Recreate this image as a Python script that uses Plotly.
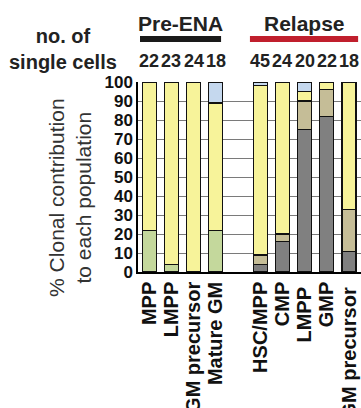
import plotly.graph_objects as go

categories = ["MPP", "LMPP", "GM precursor", "Mature GM",
              "HSC/MPP", "CMP", "LMPP ", "GMP", "GM precursor "]
positions = [0, 1, 2, 3, 5, 6, 7, 8, 9]
cell_counts = ["22", "23", "24", "18", "45", "24", "20", "22", "18"]

gray_vals = [None, None, None, None, 4, 16, 75, 82, 11]
green_vals = [22, 4, None, 22, None, None, None, None, None]
tan_vals = [None, None, None, None, 5, 4, 15, 14, 22]
yellow_vals = [78, 96, 100, 67, 89, 80, 5, 4, 67]
blue_vals = [None, None, None, 11, 2, None, 5, None, None]

series = [
    (gray_vals, "#808080"),
    (green_vals, "#c4d89c"),
    (tan_vals, "#c5bd97"),
    (yellow_vals, "#f7f39a"),
    (blue_vals, "#c5d8ee"),
]

FONT = "Liberation Sans, Arial, sans-serif"

fig = go.Figure()
for vals, col in series:
    fig.add_trace(go.Bar(
        x=positions, y=vals, width=0.63,
        marker=dict(color=col, line=dict(color="#111111", width=1.2)),
        showlegend=False, hoverinfo="skip"))

fig.update_layout(
    barmode="stack",
    width=361, height=408,
    margin=dict(l=138, r=0, t=82, b=136),
    paper_bgcolor="white", plot_bgcolor="white",
    font=dict(family=FONT, color="#222222"),
    xaxis=dict(range=[-0.5, 9.54], tickvals=positions, ticktext=categories,
               tickangle=-90, showgrid=False, showline=True, linecolor="black",
               linewidth=1.5, ticks="", zeroline=False, automargin=False,
               tickfont=dict(size=20, family=FONT, color="#111111", weight="bold")),
    yaxis=dict(range=[0, 100], tickvals=list(range(0, 101, 10)),
               showgrid=True, gridcolor="#7a7a7a", gridwidth=1,
               showline=True, linecolor="black", linewidth=1.5,
               ticks="", zeroline=False, automargin=False,
               tickfont=dict(size=17, family=FONT, color="#111111", weight="bold")),
)

# cell count numbers
for p, c in zip(positions, cell_counts):
    fig.add_annotation(x=p, xref="x", y=1.11, yref="paper", text=c,
                       showarrow=False, font=dict(size=18, family=FONT, color="#222222", weight="bold"),
                       xanchor="center", yanchor="middle")

fig.add_annotation(x=1.4, xref="x", y=1.378, yref="paper", text="Pre-ENA",
                   showarrow=False, font=dict(size=21, family=FONT, color="#222222", weight="bold"))
fig.add_annotation(x=7.0, xref="x", y=1.378, yref="paper", text="Relapse",
                   showarrow=False, font=dict(size=21, family=FONT, color="#222222", weight="bold"))

fig.add_shape(type="line", xref="x", yref="paper", x0=positions[0] - 0.41, x1=positions[3] + 0.24,
              y0=1.226, y1=1.226, line=dict(color="#1a1a1a", width=6))
fig.add_shape(type="line", xref="x", yref="paper", x0=positions[4] - 0.46, x1=positions[8] + 0.41,
              y0=1.226, y1=1.226, line=dict(color="#c01f2d", width=6))

fig.add_annotation(x=-0.336, xref="paper", y=1.174, yref="paper",
                   text="no. of<br>single cells", showarrow=False,
                   font=dict(size=20, family=FONT, color="#222222", weight="bold"),
                   xanchor="center", yanchor="middle")

fig.add_annotation(x=-0.305, xref="paper", y=0.39, yref="paper",
                   text="% Clonal contribution<br>to each population", showarrow=False,
                   textangle=-90, font=dict(size=21, family=FONT, color="#333333"),
                   xanchor="center", yanchor="middle")

fig.add_annotation(x=-0.121, xref="paper", y=1.47, yref="paper",
                   text="single-cell genotypes", showarrow=False,
                   font=dict(size=22, family=FONT, color="#222222", weight="bold"),
                   xanchor="left", yanchor="bottom")

fig.write_html("out.html")
